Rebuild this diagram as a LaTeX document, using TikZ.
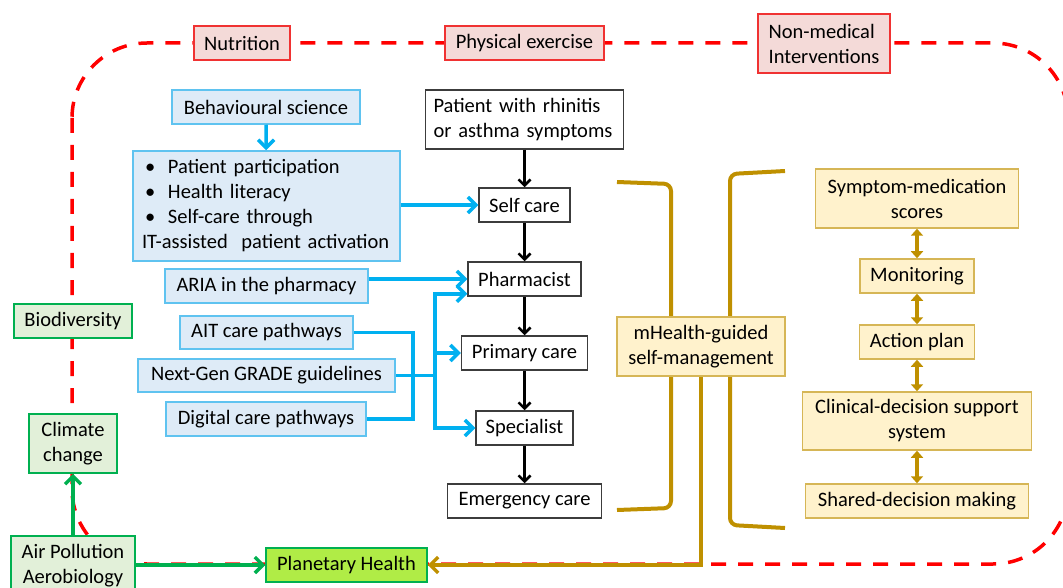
\documentclass[tikz,border=0pt]{standalone}
\usepackage{fontspec}
\setmainfont{Carlito}
\usepackage{tikz}
\usetikzlibrary{arrows.meta}

\definecolor{redline}{RGB}{240,50,50}
\definecolor{redfill}{RGB}{244,218,216}
\definecolor{blueline}{RGB}{95,195,240}
\definecolor{bluefill}{RGB}{222,235,247}
\definecolor{bluearr}{RGB}{0,176,240}
\definecolor{greenline}{RGB}{0,176,80}
\definecolor{greenfill}{RGB}{226,240,217}
\definecolor{planetfill}{RGB}{176,236,70}
\definecolor{goldline}{RGB}{214,182,86}
\definecolor{goldfill}{RGB}{255,242,204}
\definecolor{goldarr}{RGB}{191,144,0}
\definecolor{boxline}{RGB}{60,60,60}

\tikzset{
  box/.style={draw,line width=1.5pt,inner sep=0pt,align=center,
    font=\fontsize{20.5}{25}\selectfont},
  redbox/.style={box,draw=redline,fill=redfill},
  bluebox/.style={box,draw=blueline,fill=bluefill},
  greenbox/.style={box,draw=greenline,fill=greenfill},
  goldbox/.style={box,draw=goldline,fill=goldfill},
  plainbox/.style={box,draw=boxline,fill=white},
  reddash/.style={draw=red,line width=3.5pt,dash pattern=on 15pt off 12pt},
  bracket/.style={draw=goldarr,line width=4pt,rounded corners=7pt},
  blueline/.style={draw=bluearr,line width=3.5pt},
  bluearrow/.style={blueline,-{Straight Barb[length=8pt,width=16pt]}},
  blackarrow/.style={draw=black,line width=2.5pt,-{Straight Barb[length=6pt,width=12pt]}},
  greenarrow/.style={draw=greenline,line width=3.5pt,-{Straight Barb[length=8pt,width=16pt]}},
  goldarrow/.style={draw=goldarr,line width=3.5pt,-{Straight Barb[length=8pt,width=16pt]}},
  golddouble/.style={draw=goldarr,line width=4pt,{Triangle[length=7pt,width=12pt]}-{Triangle[length=7pt,width=12pt]}}
}

\begin{document}
\begin{tikzpicture}[x=1pt,y=-1pt]
  \useasboundingbox (0,0) rectangle (1063,588);
  \draw[reddash,rounded corners=75pt] (72,43) rectangle (1068,564);

  \draw[bracket] (617,182) -- (671,184) -- (671,508) -- (617,510);
  \draw[bracket] (785,171) -- (730,174) -- (730,525) -- (785,528);

  \node[redbox,minimum width=96pt,minimum height=34pt] (nutrition) at (242,43) {Nutrition};
  \node[redbox,minimum width=159pt,minimum height=34pt] (exercise) at (524.5,43) {Physical exercise};
  \node[redbox,minimum width=132pt,minimum height=59pt,align=left] (nonmed) at (824,43.5) {Non-medical\\Interventions};

  \node[bluebox,minimum width=188pt,minimum height=34pt] (behav) at (266,107) {Behavioural science};
  \node[bluebox,minimum width=267pt,minimum height=110pt,text width=249pt,align=left] (list) at (266.5,206)
    {\makebox[26pt][l]{\hspace{3pt}\textbullet}Patient participation\\
     \makebox[26pt][l]{\hspace{3pt}\textbullet}Health literacy\\
     \makebox[26pt][l]{\hspace{3pt}\textbullet}Self-care through\\
     IT-assisted\ \ patient activation};
  \node[bluebox,minimum width=203pt,minimum height=34pt] (aria) at (266.5,286) {ARIA in the pharmacy};
  \node[bluebox,minimum width=173pt,minimum height=33pt] (ait) at (266.5,332.5) {AIT care pathways};
  \node[bluebox,minimum width=257pt,minimum height=33pt] (grade) at (266.5,375.5) {Next-Gen GRADE guidelines};
  \node[bluebox,minimum width=200pt,minimum height=34pt] (digital) at (266,419) {Digital care pathways};

  \node[plainbox,minimum width=198pt,minimum height=59pt,text width=182pt,align=left] (patient) at (524.5,119.5)
    {Patient with rhinitis\\or asthma symptoms};
  \node[plainbox,minimum width=91pt,minimum height=34pt] (selfcare) at (524.5,205) {Self care};
  \node[plainbox,minimum width=113pt,minimum height=34pt] (pharm) at (524.5,279) {Pharmacist};
  \node[plainbox,minimum width=126pt,minimum height=34pt] (primary) at (524.5,353) {Primary care};
  \node[plainbox,minimum width=97pt,minimum height=34pt] (special) at (524.5,428) {Specialist};
  \node[plainbox,minimum width=154pt,minimum height=34pt] (emerg) at (524.5,501) {Emergency care};

  \node[goldbox,minimum width=168pt,minimum height=59pt] (mhealth) at (701,346.5) {mHealth-guided\\self-management};
  \node[goldbox,minimum width=203pt,minimum height=59pt] (symptom) at (917,198.5) {Symptom-medication\\scores};
  \node[goldbox,minimum width=114pt,minimum height=34pt] (monitor) at (917,276) {Monitoring};
  \node[goldbox,minimum width=115pt,minimum height=34pt] (action) at (917,342) {Action plan};
  \node[goldbox,minimum width=229pt,minimum height=58pt] (clinical) at (917,421) {Clinical-decision support\\system};
  \node[goldbox,minimum width=223pt,minimum height=34pt] (shared) at (917,501) {Shared-decision making};

  \node[greenbox,minimum width=118pt,minimum height=34pt] (biodiv) at (73,321) {Biodiversity};
  \node[greenbox,minimum width=88pt,minimum height=59pt] (climate) at (73,443.5) {Climate\\change};
  \node[greenbox,minimum width=124pt,minimum height=60pt] (air) at (73,566) {Air Pollution\\Aerobiology};
  \node[greenbox,fill=planetfill,minimum width=161pt,minimum height=34pt] (planet) at (346.5,565) {Planetary Health};

  \draw[bluearrow] (behav) -- (list);
  \draw[bluearrow] (list.east |- selfcare) -- (selfcare);
  \draw[bluearrow] (aria.east |- pharm) -- (pharm);
  \coordinate (join) at (413,375.5);
  \coordinate (hub) at (435,375.5);
  \draw[blueline] (ait.east) -| (join) |- (digital.east);
  \draw[blueline] (grade.east) -- (hub);
  \draw[bluearrow] (hub) |- ([yshift=3pt]pharm.south west);
  \draw[bluearrow] (hub) |- (primary);
  \draw[bluearrow] (hub) |- (special);

  \draw[blackarrow] (patient) -- (selfcare);
  \draw[blackarrow] (selfcare) -- (pharm);
  \draw[blackarrow] (pharm) -- (primary);
  \draw[blackarrow] (primary) -- (special);
  \draw[blackarrow] (special) -- (emerg);

  \draw[golddouble] (symptom) -- (monitor);
  \draw[golddouble] (monitor) -- (action);
  \draw[golddouble] (action) -- (clinical);
  \draw[golddouble] (clinical) -- (shared);
  \draw[goldarrow] (mhealth.south) |- (planet.east);

  \draw[greenarrow] (air) -- (climate);
  \draw[greenarrow] (air.east |- planet) -- (planet);
\end{tikzpicture}
\end{document}
